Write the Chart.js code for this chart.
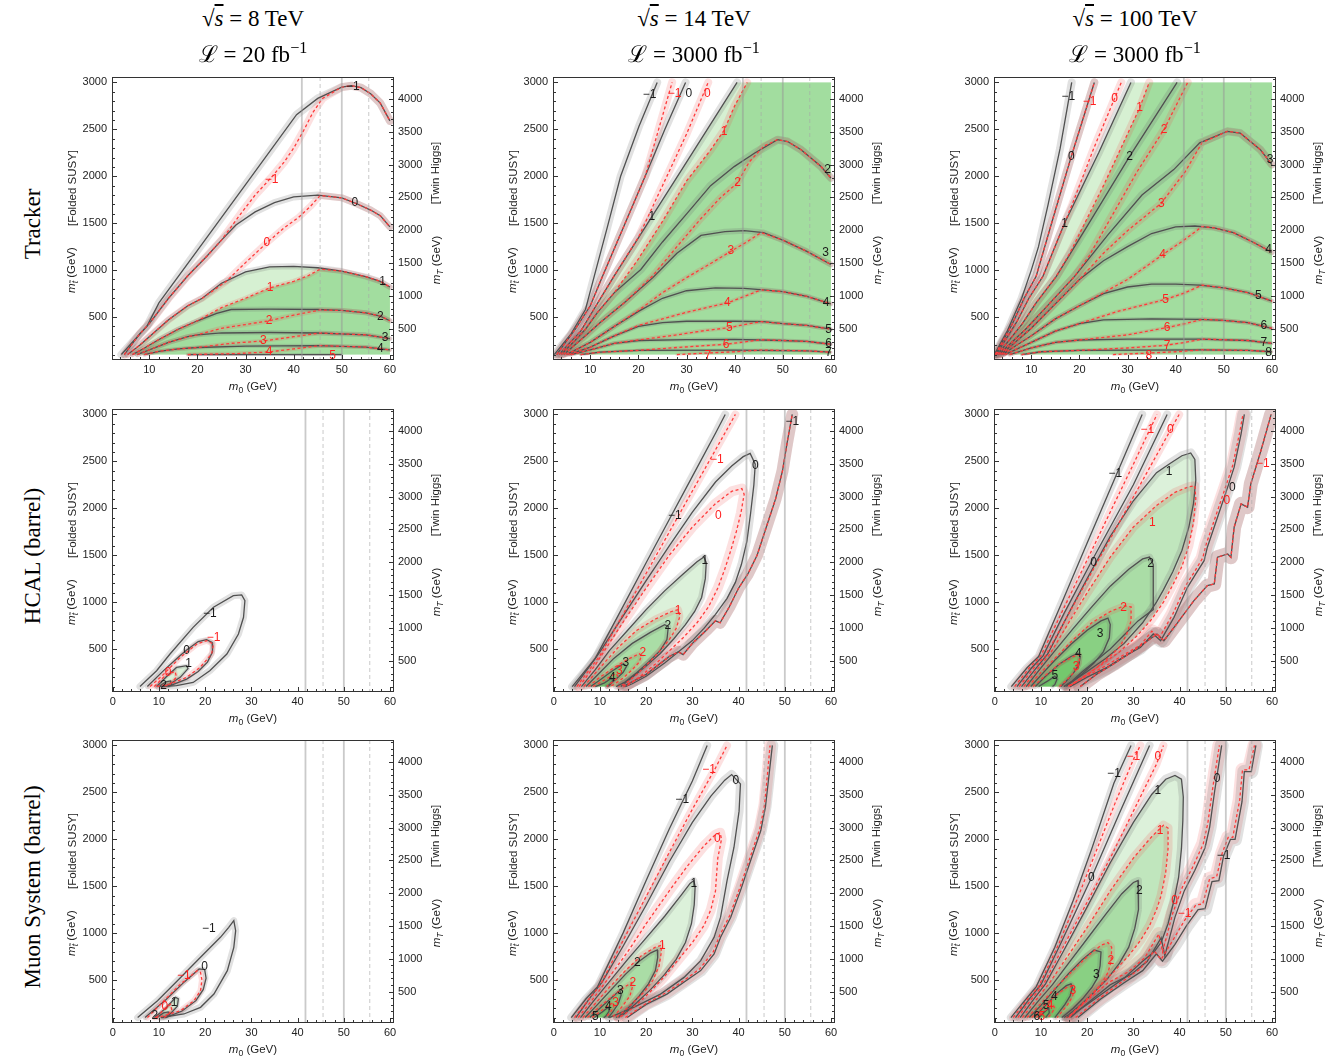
<!DOCTYPE html>
<html>
<head>
<meta charset="utf-8">
<title>Displaced decay reach</title>
<script src="https://cdn.jsdelivr.net/npm/chart.js@4.4.1/dist/chart.umd.min.js"></script>
<style>
  body { margin: 0; background: #fff; width: 1338px; height: 1059px; position: relative; overflow: hidden;
         font-family: "Liberation Sans", Arial, sans-serif; }
  canvas { position: absolute; }
  .t { position: absolute; white-space: nowrap; transform: translate(-50%, -50%); color: #222; }
  .rot { transform: translate(-50%, -50%) rotate(-90deg); }
  .serif { font-family: "Liberation Serif", "DejaVu Serif", serif; font-size: 23px; color: #000; }
  .ax { font-size: 11.5px; }
  sub { font-size: 75%; vertical-align: -0.3em; line-height: 0; }
  sup { font-size: 70%; vertical-align: 0.55em; line-height: 0; }
</style>
</head>
<body>
<script>
// axes
const XR_TRK = [2.25, 60.85];
const XR_FULL = [-0.15, 60.85];
const YR = [42, 3058];
const YR_MT = [20, 4335];
const XT_TRK = [10, 20, 30, 40, 50, 60];
const XT_FULL = [0, 10, 20, 30, 40, 50, 60];
const YT = [500, 1000, 1500, 2000, 2500, 3000];
const YT_MT = [500, 1000, 1500, 2000, 2500, 3000, 3500, 4000];
const V_SOLID = [41.7, 50];
const V_DASHED = [45.5, 55.6];
const X_EDGE = 60, Y_TOP = 3000, Y_BOT = 100;

const COL_TITLES = [["8", "20"], ["14", "3000"], ["100", "3000"]];
const ROW_TITLES = ["Tracker", "HCAL (barrel)", "Muon System (barrel)"];

// ---- Tracker, 8 TeV ----
const trk8_bM1 = [[4.2,100],[7,260],[9.5,400],[12,650],[20,1210],[30,1910],[40.6,2656],[45,2830],[50,2950],[52,2965],[54,2945],[56,2880],[58,2780],[60,2590]];
const trk8_b0 = [[4.8,100],[8,320],[10,430],[14,700],[18,940],[22,1150],[25,1320],[28,1480],[32,1620],[36,1720],[40,1780],[45,1800],[50,1770],[53,1710],[56,1640],[58,1580],[60,1460]];
const trk8_b1 = [[5.5,100],[8,200],[10,290],[14,470],[18,620],[21,700],[25,860],[30,980],[35,1035],[40,1040],[45,1025],[50,990],[55,930],[58,880],[60,820]];
const trk8_b2 = [[6.5,100],[9,170],[12,260],[16,370],[20,460],[24,540],[27,580],[35,585],[45,580],[50,570],[55,545],[58,510],[60,460]];
const trk8_b3 = [[7.5,100],[10,150],[14,230],[18,290],[20,310],[25,330],[35,335],[45,330],[55,310],[60,270]];
const trk8_b4 = [[9,100],[12,135],[16,160],[20,175],[30,190],[45,195],[55,180],[60,150]];
const trk8_b5 = [[18,100],[50,100]];
const trk8_rM1 = [[4.8,100],[8,320],[10,430],[14,700],[18,940],[22,1150],[25,1320],[29,1600],[32,1800],[35.4,1990],[38,2150],[40,2300],[42,2480],[44,2680],[46,2830],[50,2950],[52,2965],[54,2945],[56,2880],[58,2780],[60,2590]];
const trk8_r0 = [[5.5,100],[8,200],[10,290],[14,470],[18,620],[21,700],[26,880],[30,1080],[34.4,1290],[38,1450],[41,1560],[43.5,1680],[45.5,1795],[50,1770],[53,1710],[56,1640],[58,1580],[60,1460]];
const trk8_r1 = [[6.5,100],[9,170],[12,260],[16,370],[20,460],[25,600],[30,700],[35,810],[40,880],[43,940],[45.5,1010],[50,990],[55,930],[58,880],[60,820]];
const trk8_r2 = [[7.5,100],[10,150],[14,230],[18,290],[20,310],[25,380],[30,420],[34.9,460],[40,520],[45.5,575],[50,570],[55,545],[58,510],[60,460]];
const trk8_r3 = [[9,100],[12,135],[16,160],[20,175],[27,220],[33.7,245],[40,290],[45.5,330],[55,310],[60,270]];
const trk8_r4 = [[18,100],[28,110],[34.9,128],[40,160],[45.5,195],[55,180],[60,150]];
const trk8_labK = [["−1",52.3,2955],["0",52.7,1716],["1",58.5,880],["2",58,500],["3",59,275],["4",58,160]];
const trk8_labR = [["−1",35.4,1965],["0",34.4,1290],["1",35.1,812],["2",34.9,457],["3",33.7,245],["4",34.9,128],["5",48.1,85]];

// ---- Tracker, 14 TeV ----
const trk14_bM1 = [[2.5,100],[6,320],[9,580],[10.8,930],[13.5,1450],[16.3,2000],[20.1,2530],[23.9,3000]];
const trk14_b0 = [[3,100],[7,380],[10,620],[12.5,930],[17,1470],[21.4,2000],[25.5,2500],[29.8,3000]];
const trk14_b1 = [[3.5,100],[8,350],[10,520],[14.9,933],[22.8,1571],[30,2150],[40.5,3000]];
const trk14_b2 = [[4,100],[9,370],[11.5,550],[15,760],[20.5,1007],[25,1300],[30.2,1610],[35,1900],[39.9,2103],[44.1,2245],[48.9,2390],[51,2370],[53.8,2283],[57.9,2106],[60,1982]];
const trk14_b3 = [[4.5,100],[9,300],[12,440],[17,650],[23,920],[28,1180],[33,1370],[38,1410],[42,1420],[46,1400],[50,1320],[55,1200],[60,1060]];
const trk14_b4 = [[5,100],[10,230],[15,400],[20,560],[25,700],[30,780],[36,810],[42,805],[46,790],[50,770],[55,720],[60,640]];
const trk14_b5 = [[5.5,100],[10,180],[15,300],[20,400],[25,440],[30,455],[40,455],[46,450],[50,430],[55,410],[60,370]];
const trk14_b6 = [[6,100],[10,150],[15,220],[20,250],[30,260],[40,262],[50,250],[55,240],[60,210]];
const trk14_b7 = [[8,100],[12,125],[20,145],[40,148],[55,140],[60,125]];
const trk14_rM1 = [[3,100],[7,380],[10,620],[12.5,930],[17,1470],[21.4,2000],[24.2,2500],[27,3000]];
const trk14_r0 = [[3.5,100],[8,350],[10,520],[14.9,933],[20,1350],[25,1900],[30,2450],[34.5,3000]];
const trk14_r1 = [[4,100],[9,370],[11.5,550],[15,760],[20,1120],[25,1520],[30,1950],[35,2280],[37.8,2490],[40,2750],[42.6,3000]];
const trk14_r2 = [[4.5,100],[9,300],[12,440],[17,650],[23,940],[28,1250],[33,1550],[37,1770],[40.6,1930],[43,2150],[46,2320],[48.9,2390],[51,2370],[53.8,2283],[57.9,2106],[60,1982]];
const trk14_r3 = [[5,100],[10,230],[15,400],[20,570],[25,760],[30,920],[35,1070],[39.2,1200],[42.5,1300],[45.5,1400],[50,1320],[55,1200],[60,1060]];
const trk14_r4 = [[5.5,100],[10,180],[15,300],[20,410],[25,480],[30,550],[35,610],[38.5,650],[42,720],[45.5,790],[50,770],[55,720],[60,640]];
const trk14_r5 = [[6,100],[10,150],[15,220],[20,255],[28,310],[33,350],[38.9,387],[42,420],[45.5,450],[50,430],[55,410],[60,370]];
const trk14_r6 = [[8,100],[12,125],[20,145],[28,175],[38.2,210],[42,235],[45.5,258],[50,250],[55,240],[60,210]];
const trk14_r7 = [[28,100],[35,118],[40,130],[45.5,148],[55,140],[60,125]];
const trk14_labK = [["−1",22.3,2870],["0",30.5,2880],["1",22.8,1571],["2",59.3,2070],["3",58.9,1185],["4",59,650],["5",59.5,370],["6",59.5,215],["7",59.5,115]];
const trk14_labR = [["−1",27.5,2880],["0",34.3,2880],["1",37.8,2480],["2",40.6,1930],["3",39.2,1202],["4",38.5,653],["5",38.9,387],["6",38.2,210],["7",34.4,85]];

// ---- Tracker, 100 TeV ----
const trk100_bM1 = [[2.3,100],[5,350],[8,700],[10,1000],[11.5,1250],[13.5,1700],[16,2300],[18.4,3000]];
const trk100_b0 = [[2.5,100],[6,420],[8.5,700],[11,933],[14.5,1550],[18.3,2210],[23.1,3000]];
const trk100_b1 = [[2.7,100],[7,450],[9.5,700],[12.4,933],[16.9,1500],[24,2250],[30.7,3000]];
const trk100_b2 = [[3,100],[8,420],[11,650],[15.2,933],[22,1500],[30.4,2210],[40.3,3000]];
const trk100_b3 = [[3.3,100],[9,380],[13,600],[19,933],[26,1380],[33,1800],[39.6,2071],[45,2356],[50.7,2479],[53.4,2461],[57.6,2284],[60,2124]];
const trk100_b4 = [[3.7,100],[10,380],[15,640],[20,900],[25,1100],[30,1250],[35,1390],[40,1460],[44,1470],[48,1450],[52,1400],[56,1300],[60,1190]];
const trk100_b5 = [[4,100],[10,300],[15,480],[20,620],[25,750],[30,820],[35,850],[40,850],[45,840],[50,810],[55,760],[60,670]];
const trk100_b6 = [[4.5,100],[10,230],[15,350],[20,430],[25,470],[35,480],[45,475],[50,465],[55,440],[60,380]];
const trk100_b7 = [[5.5,100],[10,170],[15,230],[20,255],[30,265],[45,265],[55,250],[60,220]];
const trk100_b8 = [[8,100],[12,130],[20,145],[45,150],[55,145],[60,130]];
const trk100_rM1 = trk100_b0;
const trk100_r0 = [[2.7,100],[7,450],[9.5,700],[12.4,933],[16.9,1500],[18.5,1700],[23,2300],[28.7,3000]];
const trk100_r1 = [[3,100],[8,420],[11,650],[15.2,933],[18,1180],[25,1900],[32.5,2727],[34.5,3000]];
const trk100_r2 = [[3.3,100],[9,380],[13,600],[19,933],[22,1150],[27,1600],[32,2050],[37.6,2500],[42.5,3000]];
const trk100_r3 = [[3.7,100],[10,380],[15,640],[20,900],[25,1180],[30,1420],[37,1713],[42,2050],[45.5,2360],[50.7,2479],[53.4,2461],[57.6,2284],[60,2124]];
const trk100_r4 = [[4,100],[10,300],[15,480],[20,620],[25,760],[30,900],[37.3,1164],[42,1330],[45.5,1465],[48,1450],[52,1400],[56,1300],[60,1190]];
const trk100_r5 = [[4.5,100],[10,230],[15,350],[20,430],[28,560],[37.9,688],[42,760],[45.5,840],[50,810],[55,760],[60,670]];
const trk100_r6 = [[5.5,100],[10,170],[15,230],[20,255],[30,310],[38.2,387],[42,430],[45.5,475],[50,465],[55,440],[60,380]];
const trk100_r7 = [[8,100],[12,130],[20,145],[30,170],[38,199],[42,230],[45.5,265],[55,250],[60,220]];
const trk100_r8 = [[27,100],[34,115],[40,130],[45.5,150],[55,145],[60,130]];
const trk100_labK = [["−1",17.7,2848],["0",18.3,2210],["1",16.9,1500],["2",30.4,2210],["3",59.6,2178],["4",59.3,1220],["5",57.2,723],["6",58.3,404],["7",58.3,228],["8",59.3,121]];
const trk100_labR = [["−1",22.1,2800],["0",27.3,2830],["1",32.5,2727],["2",37.6,2500],["3",37,1713],["4",37.3,1164],["5",37.9,688],["6",38.2,387],["7",38.2,199],["8",34.4,93]];

// ---- HCAL, 8 TeV ----
const hcal8_bM1 = [[5.9,100],[9.5,269],[12.4,447],[17.4,731],[21.8,945],[26.1,1069],[27.9,1076],[28.6,1016],[28.3,838],[27.2,660],[24.7,447],[21,269],[17.4,144],[13.8,109],[10,100]];
const hcal8_b0 = [[7.5,100],[11,270],[14.6,430],[16,490],[18.5,580],[20.3,600],[21.5,570],[21.6,470],[20.5,360],[18.5,260],[16,180],[13,120],[11,100]];
const hcal8_b1 = [[9.5,100],[11.5,200],[13.8,304],[16,322],[16.3,290],[14.6,198],[12.4,127],[11,100]];
const hcal8_b2 = [[10,100],[11.5,150],[12.5,160],[12.8,120],[12,100]];
const hcal8_rM1 = [[8.1,100],[11,230],[14.6,411],[18.2,553],[20.3,589],[21.8,553],[21.4,447],[18.9,304],[16,198],[12.4,127],[9.5,100]];
const hcal8_r0 = [[9,100],[11.7,233],[13.5,260],[13.8,200],[12.5,130],[11,100]];
const hcal8_labK = [["−1",21,873],["0",16,482],["1",16.4,340],["2",11,109]];
const hcal8_labR = [["−1",21.8,625],["0",12,251]];

// ---- HCAL, 14 TeV ----
const hcal14_bM1L = [[4,100],[7,280],[9,400],[15,955],[20,1420],[25,1880],[30,2340],[35,2800],[37.1,3000]];
const hcal14_bM1R = [[15,100],[20,230],[25,420],[27,470],[28,440],[30,560],[33,700],[35,800],[36,780],[38,950],[40,1150],[42,1300],[44,1500],[46,1800],[48,2100],[49.5,2400],[50.5,2700],[51.6,3000]];
const hcal14_b0 = [[4.5,100],[8,330],[10,470],[15,850],[20,1230],[25,1600],[30,1960],[35,2280],[38.5,2450],[41,2550],[42.5,2585],[43.6,2470],[43.3,2250],[42.6,1950],[41.8,1650],[40.6,1400],[39.3,1210],[37.5,1040],[35,870],[32.5,720],[30,590],[27,470],[24,350],[20,210],[17,130],[15.5,100]];
const hcal14_b1 = [[6,100],[9,280],[12,480],[16,700],[20,920],[24,1120],[28,1300],[31,1430],[32.5,1480],[33,1420],[32.8,1250],[32,1050],[30.5,900],[28.5,760],[26,610],[23,450],[20,320],[17,200],[15,120],[14.5,100]];
const hcal14_b2 = [[7,100],[10,250],[13,400],[17,560],[21,680],[24,760],[24.8,740],[24.5,600],[23,480],[20.5,360],[18,250],[15.5,150],[13.5,100]];
const hcal14_b3 = [[8,100],[10,170],[12.5,260],[15,340],[15.8,320],[15,250],[13.5,180],[12,120],[11.5,100]];
const hcal14_b4 = [[9,100],[11,140],[12.5,190],[12.8,160],[12,110],[11.5,100]];
const hcal14_rM1L = [[5,100],[8,300],[10,430],[15,868],[20,1307],[25,1746],[30,2184],[35,2623],[39.3,3000]];
const hcal14_rM1R = hcal14_bM1R;
const hcal14_r0 = [[5.5,100],[9,330],[12,560],[16,860],[20,1150],[25,1500],[30,1800],[35,2050],[38.5,2180],[40.7,2210],[41.2,2150],[40.5,1950],[39.5,1750],[38.3,1550],[37,1350],[35.5,1150],[33.5,950],[31,780],[28,620],[25,480],[22,340],[19,220],[16.5,130],[15.5,100]];
const hcal14_r1 = [[6.5,100],[10,300],[14,520],[18,700],[22,820],[25.5,900],[27,920],[27.3,850],[26.5,720],[25,600],[23,480],[20.5,350],[18,230],[15.5,130],[14,100]];
const hcal14_r2 = [[7.5,100],[10,200],[13,300],[16,390],[18.5,450],[19,430],[18.5,360],[17,280],[15,190],[13,120],[12,100]];
const hcal14_r3 = [[8.5,100],[11,170],[13.5,240],[14,200],[12.5,140],[11.5,100]];
const hcal14_labK = [["−1",26.2,1922],["−1",51.6,2918],["0",43.6,2456],["1",32.7,1442],["2",24.7,749],["3",15.6,358],["4",12.7,198]];
const hcal14_labR = [["−1",35.3,2516],["0",35.6,1922],["1",26.9,909],["2",19.3,465],["3",14.2,269]];

// ---- HCAL, 100 TeV ----
const hcal100_bM1L = [[3.6,100],[7,300],[9.5,420],[15,1050],[20,1630],[26,2320],[31.9,3000]];
const hcal100_bM1R = [[18.5,100],[22,230],[25.7,340],[30,480],[35.1,660],[36.6,589],[38.8,731],[43.1,1016],[46,1175],[47.5,1193],[48.2,1478],[50.4,1513],[51.1,1478],[51.8,1798],[53.3,2047],[54.7,2012],[55.4,2260],[57.6,2616],[59.8,3000]];
const hcal100_b0L = [[4.8,100],[8,300],[10.5,430],[15,880],[21.4,1475],[30,2250],[37.3,3000]];
const hcal100_b0R = [[16.3,100],[20,200],[24.3,304],[28,420],[31.5,516],[34.3,660],[35.9,589],[38.8,838],[41.7,1158],[43.5,1300],[45.3,1442],[46,1585],[48.2,1905],[50.4,2225],[51.8,2438],[53.3,2794],[54,3000]];
const hcal100_b1 = [[5.8,100],[9,300],[11.5,450],[16,880],[20,1250],[25,1700],[30,2080],[35,2380],[38,2480],[40.5,2560],[42.4,2590],[43.3,2520],[43.5,2300],[43,2050],[42,1800],[40.5,1550],[38.5,1320],[36.5,1130],[35,1000],[32,780],[28,560],[24,400],[20,260],[17,160],[15,100]];
const hcal100_b2 = [[6.8,100],[10,300],[13,480],[17,720],[21,950],[25,1170],[29,1350],[32,1460],[33.5,1480],[34.3,1400],[34.3,1200],[34.3,920],[31,800],[28,650],[25,500],[22,380],[19,260],[16.5,150],[15,100]];
const hcal100_b3 = [[7.8,100],[10,220],[13,380],[16.5,550],[20,700],[23,800],[24.5,830],[25,760],[24.8,620],[23.5,470],[21.5,350],[19,240],[17,160],[15.5,100]];
const hcal100_b4 = [[8.8,100],[11,210],[14,340],[16.5,420],[18,455],[18.5,420],[18.2,330],[17,240],[15.5,160],[14.3,100]];
const hcal100_b5 = [[9.5,100],[11.5,160],[13,210],[13.5,180],[13,120],[12.5,100]];
const hcal100_rM1L = [[4.3,100],[7.5,300],[10,430],[15,940],[20,1450],[25,1960],[30,2470],[35.1,3000]];
const hcal100_rM1R = hcal100_bM1R;
const hcal100_r0L = [[5.3,100],[8.5,300],[11,430],[15,786],[20,1230],[25,1676],[30,2120],[35,2565],[39.9,3000]];
const hcal100_r0R = [[16,100],[20,215],[24,320],[28,440],[31.5,540],[34,690],[35.6,620],[38.5,870],[41.5,1190],[43.3,1330],[45,1470],[45.7,1610],[47.9,1930],[50.1,2250],[51.5,2460],[53,2810],[53.7,3000]];
const hcal100_r1 = [[6.3,100],[9.5,300],[12,450],[16,780],[20,1100],[25,1480],[30,1800],[35,2030],[39,2170],[42,2230],[43.3,2240],[43.5,2100],[43,1850],[42,1600],[40.5,1380],[38.5,1180],[36.5,1000],[34,820],[31,650],[27,470],[23,330],[19,200],[16.5,120],[15.5,100]];
const hcal100_r2 = [[7.2,100],[10,250],[13,400],[17,600],[21,780],[25,900],[28,960],[29.5,950],[29.5,800],[28.5,650],[27,520],[24,380],[21,260],[18,160],[16,100]];
const hcal100_r3 = [[8.3,100],[11,220],[14,340],[17,420],[18.3,440],[18.3,350],[17.5,270],[16,190],[14.5,120],[14,100]];
const hcal100_labK = [["−1",26.1,2367],["0",21.4,1425],["1",37.7,2385],["2",33.7,1407],["3",22.8,660],["4",18.1,447],["5",13,216],["0",51.4,2218]];
const hcal100_labR = [["−1",33,2836],["0",38,2836],["1",34.1,1851],["2",27.9,944],["3",17.6,315],["0",50.2,2083],["−1",58,2474]];

// ---- Muon system, 8 TeV ----
const mu8_bM1 = [[5.4,100],[9.7,280],[14,493],[19,742],[23.3,955],[25.1,1062],[26.2,1133],[26.6,1026],[26.2,848],[24.8,600],[21.9,351],[19,209],[15.4,138],[10.4,100]];
const mu8_b0 = [[7,100],[11.5,290],[15.5,480],[18.7,618],[19.9,610],[20.2,520],[19.6,400],[18,280],[15,170],[12,110],[10.5,100]];
const mu8_b1 = [[9,100],[11.5,200],[13.6,315],[14.2,300],[14,220],[12.5,140],[11,100]];
const mu8_b2 = [[9.5,100],[11,150],[12,160],[12.2,120],[11.5,100]];
const mu8_rM1 = [[7.5,100],[11.1,280],[14.7,458],[18.3,600],[19,582],[19.3,500],[19,387],[17.6,280],[14.7,173],[10.4,110],[9,100]];
const mu8_r0 = [[9.5,100],[11.3,200],[12.5,240],[12.8,180],[11.8,120],[11,100]];
const mu8_labK = [["−1",20.8,1044],["0",19.9,640],["1",13.3,262],["2",9.1,120]];
const mu8_labR = [["−1",15.4,546],["0",11.3,216]];

// ---- Muon system, 14 TeV ----
const mu14_bM1L = [[3.8,100],[7,300],[9.5,430],[15,1000],[20,1560],[25,2110],[30,2620],[33.2,3000]];
const mu14_bM1R = [[15.9,100],[20,240],[24.5,350],[28,470],[31.8,600],[34.7,778],[36.1,955],[38.3,1169],[40.4,1453],[42.6,1773],[44.8,2093],[45.8,2342],[46.5,2650],[47.3,3000]];
const mu14_b0 = [[4.8,100],[8,320],[10.5,480],[15,860],[20,1300],[25,1760],[30,2180],[34,2460],[37,2630],[38.5,2690],[40.4,2590],[40.1,2300],[39,1915],[37.5,1560],[36.1,1170],[34.7,955],[31.8,706],[28.2,528],[23.1,350],[17.3,208],[13,120],[12,100]];
const mu14_b1 = [[5.8,100],[9,300],[12,480],[16,720],[20,950],[24,1180],[27.5,1400],[29.5,1530],[30.3,1560],[30.6,1500],[30.4,1300],[29.8,1100],[28.5,900],[26.5,720],[24,560],[21,400],[18,260],[15.5,150],[14,100]];
const mu14_b2 = [[6.8,100],[9.5,240],[12.5,400],[15.5,560],[18.5,700],[21,790],[22.4,820],[22.5,740],[22,600],[20.5,460],[18.5,330],[16.5,220],[14.5,130],[13.5,100]];
const mu14_b3 = [[7.8,100],[10,200],[12.5,310],[14.3,390],[14.6,340],[14,250],[12.8,160],[11.8,100]];
const mu14_b4 = [[8.8,100],[10.5,160],[11.8,210],[12,170],[11.2,110],[10.8,100]];
const mu14_rM1L = [[4.5,100],[8,320],[10,440],[15,920],[20,1390],[25,1860],[30,2320],[35,2760],[37.5,3000]];
const mu14_rM1R = [[15.5,100],[20,250],[24.3,365],[28,490],[31.6,620],[34.5,800],[35.9,975],[38.1,1190],[40.2,1475],[42.4,1795],[44.6,2115],[45.6,2365],[46.2,2670],[46.8,3000]];
const mu14_r0 = [[5.3,100],[9,330],[12,530],[16,800],[20,1100],[25,1450],[29,1720],[32.5,1930],[35,2050],[36,2070],[36.3,2000],[35.5,1800],[35.2,1600],[35,1450],[34,1250],[32.5,1080],[30,900],[27,720],[24,540],[21,380],[18,240],[15.5,140],[14,100]];
const mu14_r1 = [[6.3,100],[9,250],[12,420],[15.5,600],[19,760],[22,850],[23.2,870],[23.3,800],[22.8,650],[21.5,500],[19.5,370],[17,250],[15,160],[13.5,100]];
const mu14_r2 = [[7.3,100],[10,220],[13,340],[15.5,430],[16.8,470],[17,420],[16.5,330],[15,230],[13.5,140],[12.5,100]];
const mu14_r3 = [[8.3,100],[10.5,180],[12.8,260],[13,210],[12,140],[11.2,100]];
const mu14_labK = [["−1",27.8,2420],["0",39.4,2627],["1",30.3,1531],["2",18.1,689],["3",14.4,386],["4",11.8,216],["5",9,109]];
const mu14_labR = [["−1",33.6,2740],["0",35.4,2004],["1",23.5,866],["2",17.1,475],["3",13.4,262]];

// ---- Muon system, 100 TeV ----
const mu100_bM1L = [[3.5,100],[6.5,280],[9,430],[13,850],[17,1350],[21,1900],[25.8,2600],[29.5,3000]];
const mu100_bM1R = [[18,100],[23,300],[28,470],[32,600],[35,780],[36.3,700],[39,880],[41.5,1080],[44,1250],[45.5,1260],[47,1550],[48.5,1560],[49.5,1820],[51,2000],[52,2000],[53.5,2400],[54,2720],[55.5,2720],[56.5,3000]];
const mu100_b0L = [[4.5,100],[7.5,300],[10,450],[14,860],[20.9,1588],[27,2280],[33.5,3000]];
const mu100_b0R = [[16.4,100],[20,250],[25,450],[29.5,560],[33,700],[36,950],[36.8,760],[39,1170],[41,1450],[43.3,1670],[45.5,1910],[46.5,2130],[47.6,2520],[49.1,3000]];
const mu100_b1 = [[5.5,100],[8.5,300],[11,460],[15,820],[20,1280],[25,1750],[30,2180],[34,2480],[37,2640],[39,2680],[40.4,2640],[40.8,2450],[40.7,2200],[40.4,1900],[39.8,1600],[38.8,1350],[37.5,1100],[36,900],[34.5,800],[32,700],[28,520],[24,380],[20,240],[17,140],[15.5,100]];
const mu100_b2 = [[6.5,100],[9.5,280],[12.5,450],[16,680],[20,940],[24,1200],[27.5,1420],[30,1540],[31,1560],[31.2,1450],[31,1250],[30.3,1050],[29,850],[27,680],[24.5,520],[21.5,370],[18.5,230],[16,130],[15,100]];
const mu100_b3 = [[7.5,100],[10,230],[13,400],[16,570],[19,720],[21.5,820],[23,800],[22.8,650],[22.2,520],[21,420],[19,300],[17,200],[15,120],[14.5,100]];
const mu100_b4 = [[8.5,100],[11,230],[13.5,360],[15.5,440],[16.5,460],[16.8,420],[16.3,330],[15.2,240],[13.8,150],[13,100]];
const mu100_b5 = [[9.5,100],[11,170],[11.7,200],[11.8,150],[11,100]];
const mu100_rM1L = [[4,100],[7,290],[9.5,430],[14,900],[18,1380],[22,1880],[26,2380],[30,2850],[31.5,3000]];
const mu100_rM1R = [[17.5,100],[22.5,300],[27.5,480],[31.5,620],[34.5,810],[36,720],[38.5,920],[41,1130],[43.5,1300],[45,1310],[46.5,1580],[48,1600],[49.2,1850],[50.5,2020],[51.5,2020],[53,2420],[53.6,2740],[55,2740],[56.2,3000]];
const mu100_r0L = [[5,100],[8,300],[10.5,450],[15,870],[20,1330],[25,1800],[30,2300],[35,2800],[36.5,3000]];
const mu100_r0R = [[16,100],[19.5,260],[24.5,470],[29,590],[32.5,740],[35.5,990],[36.3,800],[38.5,1210],[40.6,1490],[42.9,1710],[45.1,1950],[46.1,2170],[47.2,2560],[48.6,3000]];
const mu100_r1 = [[6,100],[9,290],[12,480],[16,770],[20,1060],[25,1450],[30,1800],[34,2030],[36.5,2150],[37.5,2120],[37.5,1900],[37,1650],[36,1400],[35,1250],[33.5,1080],[31.5,920],[29,760],[26,600],[23,450],[20,300],[17.5,180],[16,100]];
const mu100_r2 = [[7,100],[10,250],[13,410],[16.5,580],[20,750],[23,870],[24.5,900],[25.3,850],[25.2,700],[24.5,580],[23,450],[21,340],[18.5,220],[16.5,130],[15.5,100]];
const mu100_r3 = [[8,100],[10.5,220],[13,330],[15.5,420],[16.8,440],[17.2,400],[16.8,320],[15.8,240],[14.5,160],[13.5,100]];
const mu100_r4 = [[9,100],[11,180],[12.5,240],[13,200],[12.2,140],[11.5,100]];
const mu100_labK = [["−1",25.8,2698],["0",20.9,1588],["1",35.3,2520],["2",31.3,1453],["3",22,553],["4",12.9,326],["5",11.1,226],["6",9.1,109],["0",48.1,2644],["−1",49.5,1826]];
const mu100_labR = [["−1",30,2876],["0",35.3,2876],["1",35.8,2093],["2",25.1,706],["3",16.9,386],["4",12,226],["5",10.2,109],["0",38.9,1346],["−1",41.1,1204]];

// ---------------- layout & styles ----------------
const COL_LEFT = [112, 553, 994];
const ROW_TOP = [77, 409, 740];
const PW = 282, PH = 283, ML = 48, MR = 48, MT = 12, MB = 26;
const K = 'k', R = 'r';
const PALE = '#d6f0d2', GREEN = '#a2dd9f', LOOP = 'rgba(80,185,70,0.2)';

// tracker fills close along the right edge (and the top edge when the contour leaves the plot)
function closeRight(pts) {
  const out = pts.slice();
  if (pts[pts.length - 1][1] >= Y_TOP) out.push([X_EDGE, Y_TOP]);
  out.push([X_EDGE, Y_BOT]);
  return out;
}
const loops = arr => arr.map(pts => ({pts, c: LOOP}));

const PANELS = [
  {row: 0, col: 0, xr: XR_TRK, xt: XT_TRK,
   fills: [{pts: closeRight(trk8_b1), c: PALE}, {pts: closeRight(trk8_r1), c: GREEN}],
   lines: [[trk8_bM1,K,8],[trk8_b0,K,7],[trk8_b1,K,6],[trk8_b2,K,5],[trk8_b3,K,5],[trk8_b4,K,4],[trk8_b5,K,3],
           [trk8_rM1,R,8],[trk8_r0,R,7],[trk8_r1,R,5],[trk8_r2,R,5],[trk8_r3,R,4],[trk8_r4,R,4]],
   labK: trk8_labK, labR: trk8_labR},
  {row: 0, col: 1, xr: XR_TRK, xt: XT_TRK,
   fills: [{pts: closeRight(trk14_b1), c: PALE}, {pts: closeRight(trk14_r1), c: GREEN}],
   lines: [[trk14_bM1,K,8],[trk14_b0,K,8],[trk14_b1,K,8],[trk14_b2,K,8],[trk14_b3,K,6],[trk14_b4,K,5],[trk14_b5,K,4],[trk14_b6,K,4],[trk14_b7,K,3],
           [trk14_rM1,R,8],[trk14_r0,R,8],[trk14_r1,R,8],[trk14_r2,R,7],[trk14_r3,R,5],[trk14_r4,R,4],[trk14_r5,R,4],[trk14_r6,R,3],[trk14_r7,R,3]],
   labK: trk14_labK, labR: trk14_labR},
  {row: 0, col: 2, xr: XR_TRK, xt: XT_TRK,
   fills: [{pts: closeRight(trk100_b1), c: PALE}, {pts: closeRight(trk100_r1), c: GREEN}],
   lines: [[trk100_bM1,K,8],[trk100_b0,K,8],[trk100_b1,K,8],[trk100_b2,K,8],[trk100_b3,K,8],[trk100_b4,K,6],[trk100_b5,K,5],[trk100_b6,K,4],[trk100_b7,K,4],[trk100_b8,K,3],
           [trk100_rM1,R,8],[trk100_r0,R,8],[trk100_r1,R,8],[trk100_r2,R,8],[trk100_r3,R,7],[trk100_r4,R,5],[trk100_r5,R,4],[trk100_r6,R,4],[trk100_r7,R,3],[trk100_r8,R,3]],
   labK: trk100_labK, labR: trk100_labR},
  {row: 1, col: 0, xr: XR_FULL, xt: XT_FULL,
   fills: loops([hcal8_b1, hcal8_b2]),
   lines: [[hcal8_bM1,K,7],[hcal8_b0,K,5],[hcal8_b1,K,4],[hcal8_b2,K,3],[hcal8_rM1,R,6],[hcal8_r0,R,4]],
   labK: hcal8_labK, labR: hcal8_labR},
  {row: 1, col: 1, xr: XR_FULL, xt: XT_FULL,
   fills: loops([hcal14_b1, hcal14_r1, hcal14_b2, hcal14_r2, hcal14_b3, hcal14_r3, hcal14_b4]),
   lines: [[hcal14_bM1L,K,8],[hcal14_bM1R,K,12],[hcal14_b0,K,8],[hcal14_b1,K,7],[hcal14_b2,K,6],[hcal14_b3,K,5],[hcal14_b4,K,4],
           [hcal14_rM1L,R,8],[hcal14_rM1R,R,12],[hcal14_r0,R,10],[hcal14_r1,R,7],[hcal14_r2,R,5],[hcal14_r3,R,4]],
   labK: hcal14_labK, labR: hcal14_labR},
  {row: 1, col: 2, xr: XR_FULL, xt: XT_FULL,
   fills: loops([hcal100_b1, hcal100_r1, hcal100_b2, hcal100_r2, hcal100_b3, hcal100_r3, hcal100_b4, hcal100_b5]),
   lines: [[hcal100_bM1L,K,8],[hcal100_bM1R,K,14],[hcal100_b0L,K,8],[hcal100_b0R,K,14],[hcal100_b1,K,9],[hcal100_b2,K,7],[hcal100_b3,K,6],[hcal100_b4,K,5],[hcal100_b5,K,4],
           [hcal100_rM1L,R,8],[hcal100_rM1R,R,14],[hcal100_r0L,R,8],[hcal100_r0R,R,14],[hcal100_r1,R,9],[hcal100_r2,R,7],[hcal100_r3,R,5]],
   labK: hcal100_labK, labR: hcal100_labR},
  {row: 2, col: 0, xr: XR_FULL, xt: XT_FULL,
   fills: loops([mu8_b1, mu8_b2]),
   lines: [[mu8_bM1,K,7],[mu8_b0,K,5],[mu8_b1,K,4],[mu8_b2,K,3],[mu8_rM1,R,6],[mu8_r0,R,4]],
   labK: mu8_labK, labR: mu8_labR},
  {row: 2, col: 1, xr: XR_FULL, xt: XT_FULL,
   fills: loops([mu14_b1, mu14_r1, mu14_b2, mu14_r2, mu14_b3, mu14_r3, mu14_b4]),
   lines: [[mu14_bM1L,K,8],[mu14_bM1R,K,12],[mu14_b0,K,9],[mu14_b1,K,7],[mu14_b2,K,6],[mu14_b3,K,5],[mu14_b4,K,4],
           [mu14_rM1L,R,8],[mu14_rM1R,R,12],[mu14_r0,R,10],[mu14_r1,R,7],[mu14_r2,R,5],[mu14_r3,R,4]],
   labK: mu14_labK, labR: mu14_labR},
  {row: 2, col: 2, xr: XR_FULL, xt: XT_FULL,
   fills: loops([mu100_b1, mu100_r1, mu100_b2, mu100_r2, mu100_b3, mu100_r3, mu100_b4, mu100_r4, mu100_b5]),
   lines: [[mu100_bM1L,K,8],[mu100_bM1R,K,14],[mu100_b0L,K,8],[mu100_b0R,K,14],[mu100_b1,K,9],[mu100_b2,K,7],[mu100_b3,K,6],[mu100_b4,K,5],[mu100_b5,K,4],
           [mu100_rM1L,R,8],[mu100_rM1R,R,14],[mu100_r0L,R,8],[mu100_r0R,R,14],[mu100_r1,R,9],[mu100_r2,R,7],[mu100_r3,R,5],[mu100_r4,R,4]],
   labK: mu100_labK, labR: mu100_labR}
];

const toXY = pts => pts.map(([x, y]) => ({x, y}));

function buildDatasets(p) {
  const ds = [];
  // a higher order is drawn earlier, so the first fill stays underneath the later ones
  p.fills.forEach((f, i) => ds.push({data: toXY(f.pts), fill: 'shape', backgroundColor: f.c,
    borderColor: 'rgba(0,0,0,0)', borderWidth: 0, order: 90 - i, clip: 0}));
  // uncertainty bands, drawn as wide translucent strokes
  p.lines.forEach(([pts, kind, band]) => ds.push({data: toXY(pts), fill: false,
    borderColor: kind === K ? 'rgba(105,105,105,0.2)' : 'rgba(235,70,70,0.17)',
    borderWidth: band, borderJoinStyle: 'round', borderCapStyle: 'round', order: 40, clip: 0}));
  p.lines.forEach(([pts, kind]) => ds.push({data: toXY(pts), fill: false,
    borderColor: kind === K ? '#505050' : '#ff3b3b', borderWidth: 1.3,
    borderDash: kind === K ? [] : [3, 2.5], order: kind === K ? 20 : 10, clip: 0}));
  return ds;
}

// frame, inward ticks, reference lines and contour labels
function framePlugin(p) {
  return {
    id: 'frame',
    afterDatasetsDraw(chart) {
      const {ctx, chartArea: a} = chart;
      const sx = chart.scales.x, sy = chart.scales.y, sm = chart.scales.y2;
      ctx.save();
      ctx.beginPath();
      ctx.rect(a.left, a.top, a.right - a.left, a.bottom - a.top);
      ctx.clip();
      ctx.strokeStyle = 'rgba(150,150,150,0.5)';
      ctx.lineWidth = 1.8;
      V_SOLID.forEach(v => {
        const px = sx.getPixelForValue(v);
        ctx.beginPath(); ctx.moveTo(px, a.top); ctx.lineTo(px, a.bottom); ctx.stroke();
      });
      ctx.strokeStyle = 'rgba(165,165,165,0.55)';
      ctx.lineWidth = 1.1;
      ctx.setLineDash([4, 3]);
      V_DASHED.forEach(v => {
        const px = sx.getPixelForValue(v);
        ctx.beginPath(); ctx.moveTo(px, a.top); ctx.lineTo(px, a.bottom); ctx.stroke();
      });
      ctx.restore();

      ctx.save();
      ctx.font = '12px "Liberation Sans", Arial, sans-serif';
      ctx.textAlign = 'center';
      ctx.textBaseline = 'middle';
      ctx.fillStyle = '#1a1a1a';
      p.labK.forEach(([t, x, y]) => ctx.fillText(t, sx.getPixelForValue(x), sy.getPixelForValue(y)));
      ctx.fillStyle = '#ff2020';
      p.labR.forEach(([t, x, y]) => ctx.fillText(t, sx.getPixelForValue(x), sy.getPixelForValue(y)));

      ctx.strokeStyle = '#333';
      ctx.lineWidth = 1;
      ctx.strokeRect(a.left + 0.5, a.top + 0.5, a.right - a.left - 1, a.bottom - a.top - 1);
      ctx.beginPath();
      for (let v = Math.ceil(sx.min / 2) * 2; v <= sx.max; v += 2) {
        const px = Math.round(sx.getPixelForValue(v)) + 0.5;
        const len = v % 10 === 0 ? 5 : 3;
        ctx.moveTo(px, a.bottom); ctx.lineTo(px, a.bottom - len);
      }
      for (let v = 100; v <= sy.max; v += 100) {
        const py = Math.round(sy.getPixelForValue(v)) + 0.5;
        const len = v % 500 === 0 ? 5 : 3;
        ctx.moveTo(a.left, py); ctx.lineTo(a.left + len, py);
      }
      for (let v = 100; v <= sm.max; v += 100) {
        const py = Math.round(sm.getPixelForValue(v)) + 0.5;
        const len = v % 500 === 0 ? 5 : 3;
        ctx.moveTo(a.right, py); ctx.lineTo(a.right - len, py);
      }
      ctx.stroke();
      ctx.restore();
    }
  };
}

function makeChart(p) {
  const cv = document.createElement('canvas');
  cv.width = ML + PW + MR;
  cv.height = MT + PH + MB;
  cv.style.left = (COL_LEFT[p.col] - ML) + 'px';
  cv.style.top = (ROW_TOP[p.row] - MT) + 'px';
  document.body.appendChild(cv);
  const font = {family: '"Liberation Sans", Arial, sans-serif', size: 11};
  const fixed = vals => s => { s.ticks = vals.map(v => ({value: v})); };
  const noGrid = {display: false, drawTicks: false};
  new Chart(cv, {
    type: 'line',
    data: {datasets: buildDatasets(p)},
    options: {
      responsive: false, animation: false, devicePixelRatio: 1, events: [],
      layout: {padding: {top: MT, left: 0, right: 0, bottom: 0}},
      elements: {point: {radius: 0}, line: {tension: 0}},
      plugins: {legend: {display: false}, tooltip: {enabled: false}},
      scales: {
        x: {type: 'linear', min: p.xr[0], max: p.xr[1], afterBuildTicks: fixed(p.xt),
            afterFit: s => { s.height = MB; }, grid: noGrid, border: {display: false},
            ticks: {font, color: '#222', padding: 3, maxRotation: 0, autoSkip: false, callback: v => String(v)}},
        y: {position: 'left', min: YR[0], max: YR[1], afterBuildTicks: fixed(YT),
            afterFit: s => { s.width = ML; }, grid: noGrid, border: {display: false},
            ticks: {font, color: '#222', padding: 5, autoSkip: false, callback: v => String(v)}},
        y2: {position: 'right', min: YR_MT[0], max: YR_MT[1], afterBuildTicks: fixed(YT_MT),
             afterFit: s => { s.width = MR; }, grid: noGrid, border: {display: false},
             ticks: {font, color: '#222', padding: 4, autoSkip: false, callback: v => String(v)}}
      }
    },
    plugins: [framePlugin(p)]
  });
}

PANELS.forEach(makeChart);

// text around the grid
function addText(html, x, y, cls) {
  const d = document.createElement('div');
  d.className = 't ' + cls;
  d.innerHTML = html;
  d.style.left = x + 'px';
  d.style.top = y + 'px';
  document.body.appendChild(d);
}
COL_TITLES.forEach(([e, l], c) => {
  const cx = COL_LEFT[c] + PW / 2;
  addText('√<span style="text-decoration:overline"><i>s</i></span> = ' + e + ' TeV', cx, 19, 'serif');
  addText('ℒ = ' + l + ' fb<sup>−1</sup>', cx, 53, 'serif');
});
ROW_TITLES.forEach((t, r) => addText(t, 33, ROW_TOP[r] + 147, 'serif rot'));
for (let r = 0; r < 3; r++) {
  for (let c = 0; c < 3; c++) {
    const L = COL_LEFT[c], T = ROW_TOP[r];
    addText('<i>m</i><sub>0</sub> (GeV)', L + PW / 2, T + PH + 26, 'ax');
    addText('[Folded SUSY]', L - 40, T + 111, 'ax rot');
    addText('<i>m</i><sub><i>t&#771;</i></sub> (GeV)', L - 41, T + 193, 'ax rot');
    addText('[Twin Higgs]', L + PW + 41, T + 96, 'ax rot');
    addText('<i>m</i><sub><i>T</i></sub> (GeV)', L + PW + 42, T + 183, 'ax rot');
  }
}
</script>
</body>
</html>
